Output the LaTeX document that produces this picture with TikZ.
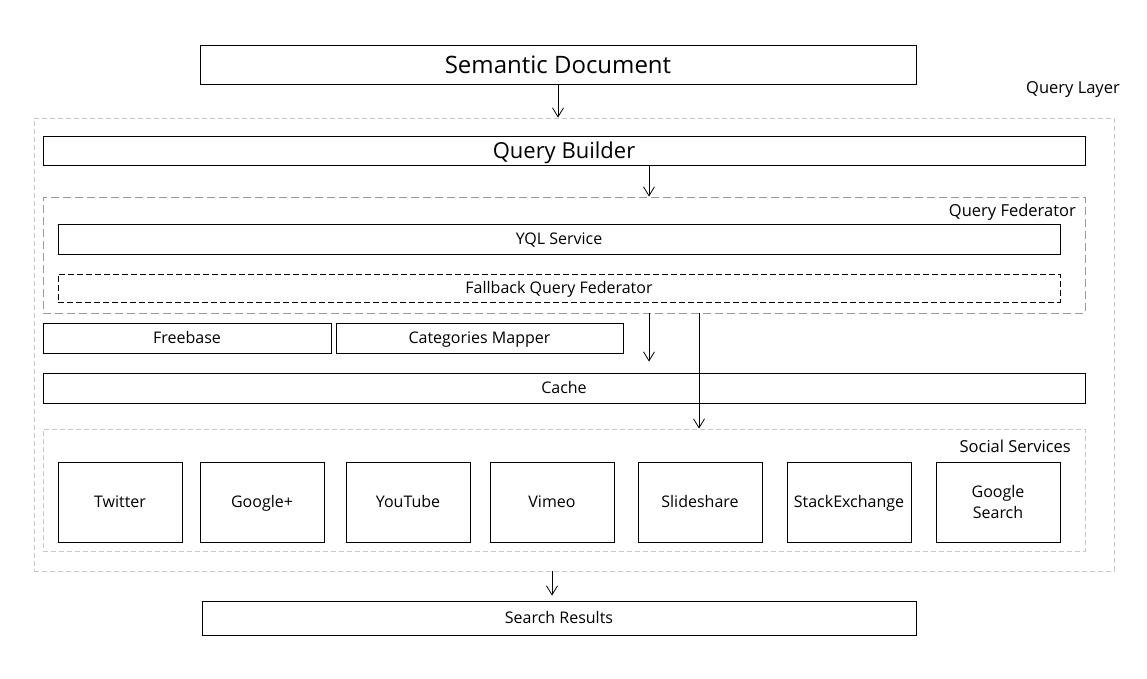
\documentclass[tikz,border=0pt]{standalone}
\usepackage{fontspec}
\setmainfont{Open Sans}
\usetikzlibrary{arrows.meta}

\tikzset{
	box/.style={draw=black, line width=0.9pt, inner sep=0pt, text height=12.5pt, text depth=1.5pt, font=\fontsize{16}{19}\selectfont},
	svcbox/.style={box, minimum width=124pt, minimum height=80pt, align=center},
	layerbox/.style={draw=black!22, line width=0.8pt, dash pattern=on 5pt off 3pt, inner sep=0pt},
	fedbox/.style={draw=black!40, line width=0.9pt, dash pattern=on 8pt off 4pt, inner sep=0pt},
	grouplabel/.style={anchor=east, inner sep=0pt, font=\fontsize{16.5}{19}\selectfont},
	arr/.style={line width=0.8pt, -{Straight Barb[length=9pt,width=11pt,line width=0.8pt]}}
}

\begin{document}
\begin{tikzpicture}[x=1pt, y=-1pt]
			%%%%% START %%%%%
			\useasboundingbox (0,0) rectangle (1147,678);
			
			\node[box, minimum width=716pt, minimum height=39pt, text height=19pt, text depth=2pt, font=\fontsize{24}{28}\selectfont] (semdoc) at (558,64.5) {Semantic Document};
			
			% query layer
			\node[layerbox, minimum width=1080pt, minimum height=453pt] (layer) at (574,344.5) {};
			\node[grouplabel] (layerlabel) at (1120,89) {Query Layer};
			
			\node[box, minimum width=1042pt, minimum height=29pt, text height=17pt, text depth=2pt, font=\fontsize{22}{26}\selectfont] (builder) at (564,150.5) {Query Builder};
			
			% query federator
			\node[fedbox, minimum width=1042pt, minimum height=116pt] (federator) at (564,255) {};
			\node[grouplabel] (fedlabel) at (1076,212) {Query Federator};
			\node[box, minimum width=1002pt, minimum height=30pt] (yql) at (559,239) {YQL Service};
			\node[box, dash pattern=on 6pt off 3pt, minimum width=1002pt, minimum height=28pt] (fallback) at (559,288) {Fallback Query Federator};
			
			\node[box, minimum width=288pt, minimum height=30pt] (freebase) at (187,338) {Freebase};
			\node[box, minimum width=287pt, minimum height=30pt] (catmap) at (479.5,338) {Categories Mapper};
			
			\node[box, minimum width=1042pt, minimum height=30pt] (cache) at (564,388) {Cache};
			
			% social services
			\node[layerbox, minimum width=1042pt, minimum height=122pt] (social) at (564,490) {};
			\node[grouplabel] (sociallabel) at (1071,446) {Social Services};
			
			\node[svcbox] (twitter) at (120,502) {Twitter};
			\node[svcbox] (gplus) at (262,502) {Google+};
			\node[svcbox] (youtube) at (408,502) {YouTube};
			\node[svcbox] (vimeo) at (552,502) {Vimeo};
			\node[svcbox] (slideshare) at (700,502) {Slideshare};
			\node[svcbox] (stackex) at (849,502) {StackExchange};
			\node[svcbox, text height=, text depth=] (gsearch) at (998,502) {Google\\[2pt]Search};
			
			\node[box, minimum width=714pt, minimum height=34pt] (results) at (559,618) {Search Results};
			
			% arrows
			\coordinate (tapa) at (649,0);
			\coordinate (tapb) at (699,0);
			\coordinate (tapc) at (552,0);
			\draw[arr] (semdoc.south) -- (semdoc.south |- layer.north);
			\draw[arr] (builder.south -| tapa) -- (federator.north -| tapa);
			\draw[arr] (federator.south -| tapa) -- ([yshift=11pt]cache.north -| tapa);
			\draw[arr] (federator.south -| tapb) -- (social.north -| tapb);
			\draw[arr] (layer.south -| tapc) -- ([yshift=5pt]results.north -| tapc);
			
			%%%%% END %%%%%
		\end{tikzpicture}
\end{document}
